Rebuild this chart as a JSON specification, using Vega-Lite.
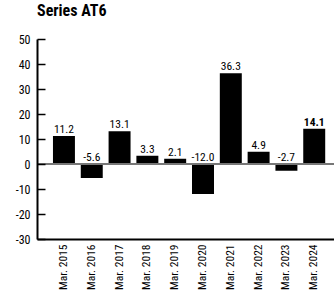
{
  "$schema": "https://vega.github.io/schema/vega-lite/v6.json",
  "autosize": {"type": "none"},
  "padding": {"left": 37, "top": 39, "right": 0, "bottom": 53},
  "width": 297,
  "height": 200,
  "background": "white",
  "title": {
    "text": "Series AT6",
    "anchor": "start",
    "frame": "group",
    "offset": 14,
    "font": "Roboto Condensed, DejaVu Sans Condensed",
    "fontSize": 16,
    "fontWeight": "bold",
    "color": "black"
  },
  "config": {
    "view": {"stroke": null},
    "font": "Roboto Condensed, DejaVu Sans Condensed",
    "axis": {"labelOverlap": false}
  },
  "data": {
    "values": [
      {"period": "Mar. 2015", "value": 11.2, "label": "11.2"},
      {"period": "Mar. 2016", "value": -5.6, "label": "-5.6"},
      {"period": "Mar. 2017", "value": 13.1, "label": "13.1"},
      {"period": "Mar. 2018", "value": 3.3, "label": "3.3"},
      {"period": "Mar. 2019", "value": 2.1, "label": "2.1"},
      {"period": "Mar. 2020", "value": -12.0, "label": "-12.0"},
      {"period": "Mar. 2021", "value": 36.3, "label": "36.3"},
      {"period": "Mar. 2022", "value": 4.9, "label": "4.9"},
      {"period": "Mar. 2023", "value": -2.7, "label": "-2.7"},
      {"period": "Mar. 2024", "value": 14.1, "label": "14.1"}
    ]
  },
  "layer": [
    {
      "mark": {"type": "bar", "color": "black"},
      "encoding": {
        "x": {
          "field": "period",
          "type": "nominal",
          "sort": null,
          "scale": {"paddingInner": 0.21, "paddingOuter": 0.445, "align": 0.645, "round": false},
          "axis": {
            "title": null,
            "labelAngle": -90,
            "ticks": false,
            "domain": true,
            "domainColor": "black",
            "domainWidth": 2,
            "labelPadding": 5,
            "labelFontSize": 11.5,
            "labelColor": "black",
            "labelOverlap": false,
            "labelFont": "Roboto Condensed, DejaVu Sans Condensed"
          }
        },
        "y": {
          "field": "value",
          "type": "quantitative",
          "scale": {"domain": [-30, 50], "nice": false, "zero": false},
          "axis": {
            "title": null,
            "values": [-30, -20, -10, 0, 10, 20, 30, 40, 50],
            "tickCount": 10,
            "labelExpr": "replace(datum.label, '\u2212', '-')",
            "labelOverlap": false,
            "grid": false,
            "domain": true,
            "domainColor": "black",
            "domainWidth": 2,
            "zindex": 1,
            "tickColor": "black",
            "tickWidth": 1.5,
            "tickSize": -8,
            "labelPadding": 15,
            "labelFontSize": 12,
            "labelColor": "black",
            "labelFont": "Roboto Condensed, DejaVu Sans Condensed"
          }
        },
        "y2": {"datum": 0}
      }
    },
    {
      "mark": {"type": "rule", "color": "#777777", "strokeWidth": 1.5},
      "encoding": {"y": {"datum": 0}}
    },
    {
      "transform": [{"filter": "datum.value >= 0 && datum.period !== 'Mar. 2024'"}],
      "mark": {"type": "text", "baseline": "bottom", "dy": -1, "fontSize": 11.5, "color": "black"},
      "encoding": {
        "x": {"field": "period", "type": "nominal", "sort": null},
        "y": {"field": "value", "type": "quantitative"},
        "text": {"field": "label", "type": "nominal"}
      }
    },
    {
      "transform": [{"filter": "datum.period === 'Mar. 2024'"}],
      "mark": {"type": "text", "baseline": "bottom", "dy": -1, "fontSize": 11.5, "fontWeight": "bold", "color": "black"},
      "encoding": {
        "x": {"field": "period", "type": "nominal", "sort": null},
        "y": {"field": "value", "type": "quantitative"},
        "text": {"field": "label", "type": "nominal"}
      }
    },
    {
      "transform": [{"filter": "datum.value < 0"}],
      "mark": {"type": "text", "baseline": "bottom", "dy": -1, "fontSize": 11.5, "color": "black"},
      "encoding": {
        "x": {"field": "period", "type": "nominal", "sort": null},
        "y": {"datum": 0},
        "text": {"field": "label", "type": "nominal"}
      }
    }
  ]
}
